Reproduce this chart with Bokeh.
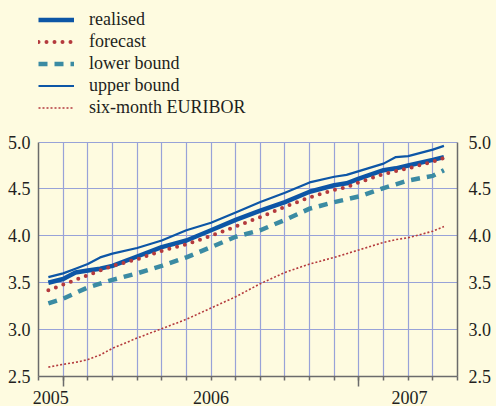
from bokeh.plotting import figure
from bokeh.models import (Range1d, LinearAxis, FixedTicker, Legend, LegendItem,
                          NumeralTickFormatter)
from bokeh.embed import file_html
from bokeh.resources import INLINE

# ---- data (x in grid units of the time axis) ----
x_pos = [0.4, 1, 1.5, 2, 2.5, 3, 4, 5, 6, 7, 8, 9, 10, 11, 12, 12.5, 13, 14, 14.5, 15, 16, 16.45]
realised = [3.50, 3.54, 3.61, 3.63, 3.65, 3.68, 3.78, 3.88, 3.95, 4.06, 4.17, 4.27, 4.36, 4.47,
            4.54, 4.56, 4.61, 4.70, 4.72, 4.75, 4.81, 4.84]
forecast = [3.42, 3.48, 3.53, 3.58, 3.63, 3.68, 3.75, 3.84, 3.91, 4.00, 4.10, 4.20, 4.31, 4.41,
            4.49, 4.52, 4.57, 4.66, 4.69, 4.72, 4.79, 4.83]
lower_bound = [3.28, 3.33, 3.39, 3.45, 3.49, 3.53, 3.60, 3.68, 3.77, 3.88, 3.99, 4.06, 4.17, 4.29,
               4.36, 4.39, 4.42, 4.51, 4.55, 4.59, 4.64, 4.70]
upper_bound = [3.56, 3.60, 3.65, 3.70, 3.77, 3.81, 3.87, 3.95, 4.06, 4.14, 4.25, 4.36, 4.46, 4.57,
               4.63, 4.65, 4.69, 4.77, 4.84, 4.85, 4.92, 4.96]
euribor = [2.60, 2.63, 2.65, 2.68, 2.73, 2.80, 2.91, 3.01, 3.11, 3.23, 3.35, 3.49, 3.61, 3.70,
           3.77, 3.81, 3.85, 3.93, 3.96, 3.98, 4.05, 4.10]

year_labels = ["2005", "2006", "2007"]
year_label_pos = [0.5, 7.0, 15.05]
year_marks = [1, 13]
period_ticks = list(range(0, 18))
grid_x = list(range(1, 17))
y_ticks = [2.5, 3.0, 3.5, 4.0, 4.5, 5.0]
y_min, y_max = 2.5, 5.0

BG = "#fefbe0"
GRID = "#98a2d8"
AXIS = "#6b6b6b"
TXT = "#231f20"
BLUE = "#0d56a6"
RED = "#b43a3d"
TEAL = "#3b8ba3"
FONT = "Liberation Serif"

# the frame reaches the top of the picture so the legend (drawn inside it) sits above the grid
p = figure(width=496, height=406, output_backend="svg", toolbar_location=None,
           x_range=Range1d(0, 17), y_range=Range1d(y_min, 6.51),
           x_axis_location=None, y_axis_location=None,
           min_border_left=38, min_border_right=39, min_border_top=0, min_border_bottom=30)
p.background_fill_color = BG
p.border_fill_color = BG
p.outline_line_color = None

# grids (limited to the value range)
p.xgrid.ticker = FixedTicker(ticks=grid_x)
p.ygrid.ticker = FixedTicker(ticks=y_ticks[1:])
p.xgrid.cross_bounds = (y_min, y_max)
p.xgrid.grid_line_color = GRID
p.ygrid.grid_line_color = GRID
p.xgrid.grid_line_width = 1.2
p.ygrid.grid_line_width = 1.2

# bottom axis with tick marks
ax_ticks = LinearAxis(ticker=FixedTicker(ticks=year_marks, minor_ticks=period_ticks),
                      major_label_overrides={1: "", 13: ""},
                      major_label_text_font_size="0px", major_label_standoff=0,
                      major_tick_out=10, major_tick_in=0, minor_tick_out=4, minor_tick_in=0,
                      axis_line_color=AXIS, axis_line_width=1.5,
                      major_tick_line_color=AXIS, major_tick_line_width=1.5,
                      minor_tick_line_color=AXIS, minor_tick_line_width=1.5)
p.add_layout(ax_ticks, "below")

# bottom axis with year labels
ax_years = LinearAxis(ticker=FixedTicker(ticks=year_label_pos),
                      major_label_overrides=dict(zip(year_label_pos, year_labels)),
                      major_label_text_font=FONT, major_label_text_font_size="18px",
                      major_label_text_color=TXT, major_label_standoff=4,
                      major_tick_out=0, major_tick_in=0, major_tick_line_color=None,
                      minor_tick_line_color=None, axis_line_color=None)
p.add_layout(ax_years, "below")

for side, standoff in (("left", 8), ("right", 11)):
    ax = LinearAxis(ticker=FixedTicker(ticks=y_ticks), bounds=(y_min, y_max),
                    formatter=NumeralTickFormatter(format="0.0"),
                    major_label_text_font=FONT, major_label_text_font_size="18px",
                    major_label_text_color=TXT, major_label_standoff=standoff,
                    major_tick_out=0, major_tick_in=0, major_tick_line_color=None,
                    minor_tick_line_color=None,
                    axis_line_color=AXIS, axis_line_width=1.5)
    p.add_layout(ax, side)

# series
r_eur = p.line(x_pos, euribor, line_color=RED, line_width=1.6, line_dash="2 2")
r_low = p.line(x_pos, lower_bound, line_color=TEAL, line_width=4.5, line_dash="9 7")
r_up = p.line(x_pos, upper_bound, line_color=BLUE, line_width=2.2)
r_real = p.line(x_pos, realised, line_color=BLUE, line_width=4.5)
r_fc = p.line(x_pos, forecast, line_color=RED, line_width=4, line_dash="0 8", line_cap="round")

legend = Legend(items=[LegendItem(label="realised", renderers=[r_real]),
                       LegendItem(label="forecast", renderers=[r_fc]),
                       LegendItem(label="lower bound", renderers=[r_low]),
                       LegendItem(label="upper bound", renderers=[r_up]),
                       LegendItem(label="six-month EURIBOR", renderers=[r_eur])],
                location=(0, 258), padding=0, margin=0, border_line_color=None,
                background_fill_alpha=0, label_text_font=FONT, label_text_font_size="18px",
                label_text_color=TXT, glyph_width=36, glyph_height=21, label_height=21,
                spacing=1, label_standoff=15)
p.add_layout(legend)

html = file_html(p, INLINE, title="chart")
html = html.replace("</head>", "<style>body{margin:0;background:%s;}</style></head>" % BG, 1)
open("out.html", "w").write(html)
